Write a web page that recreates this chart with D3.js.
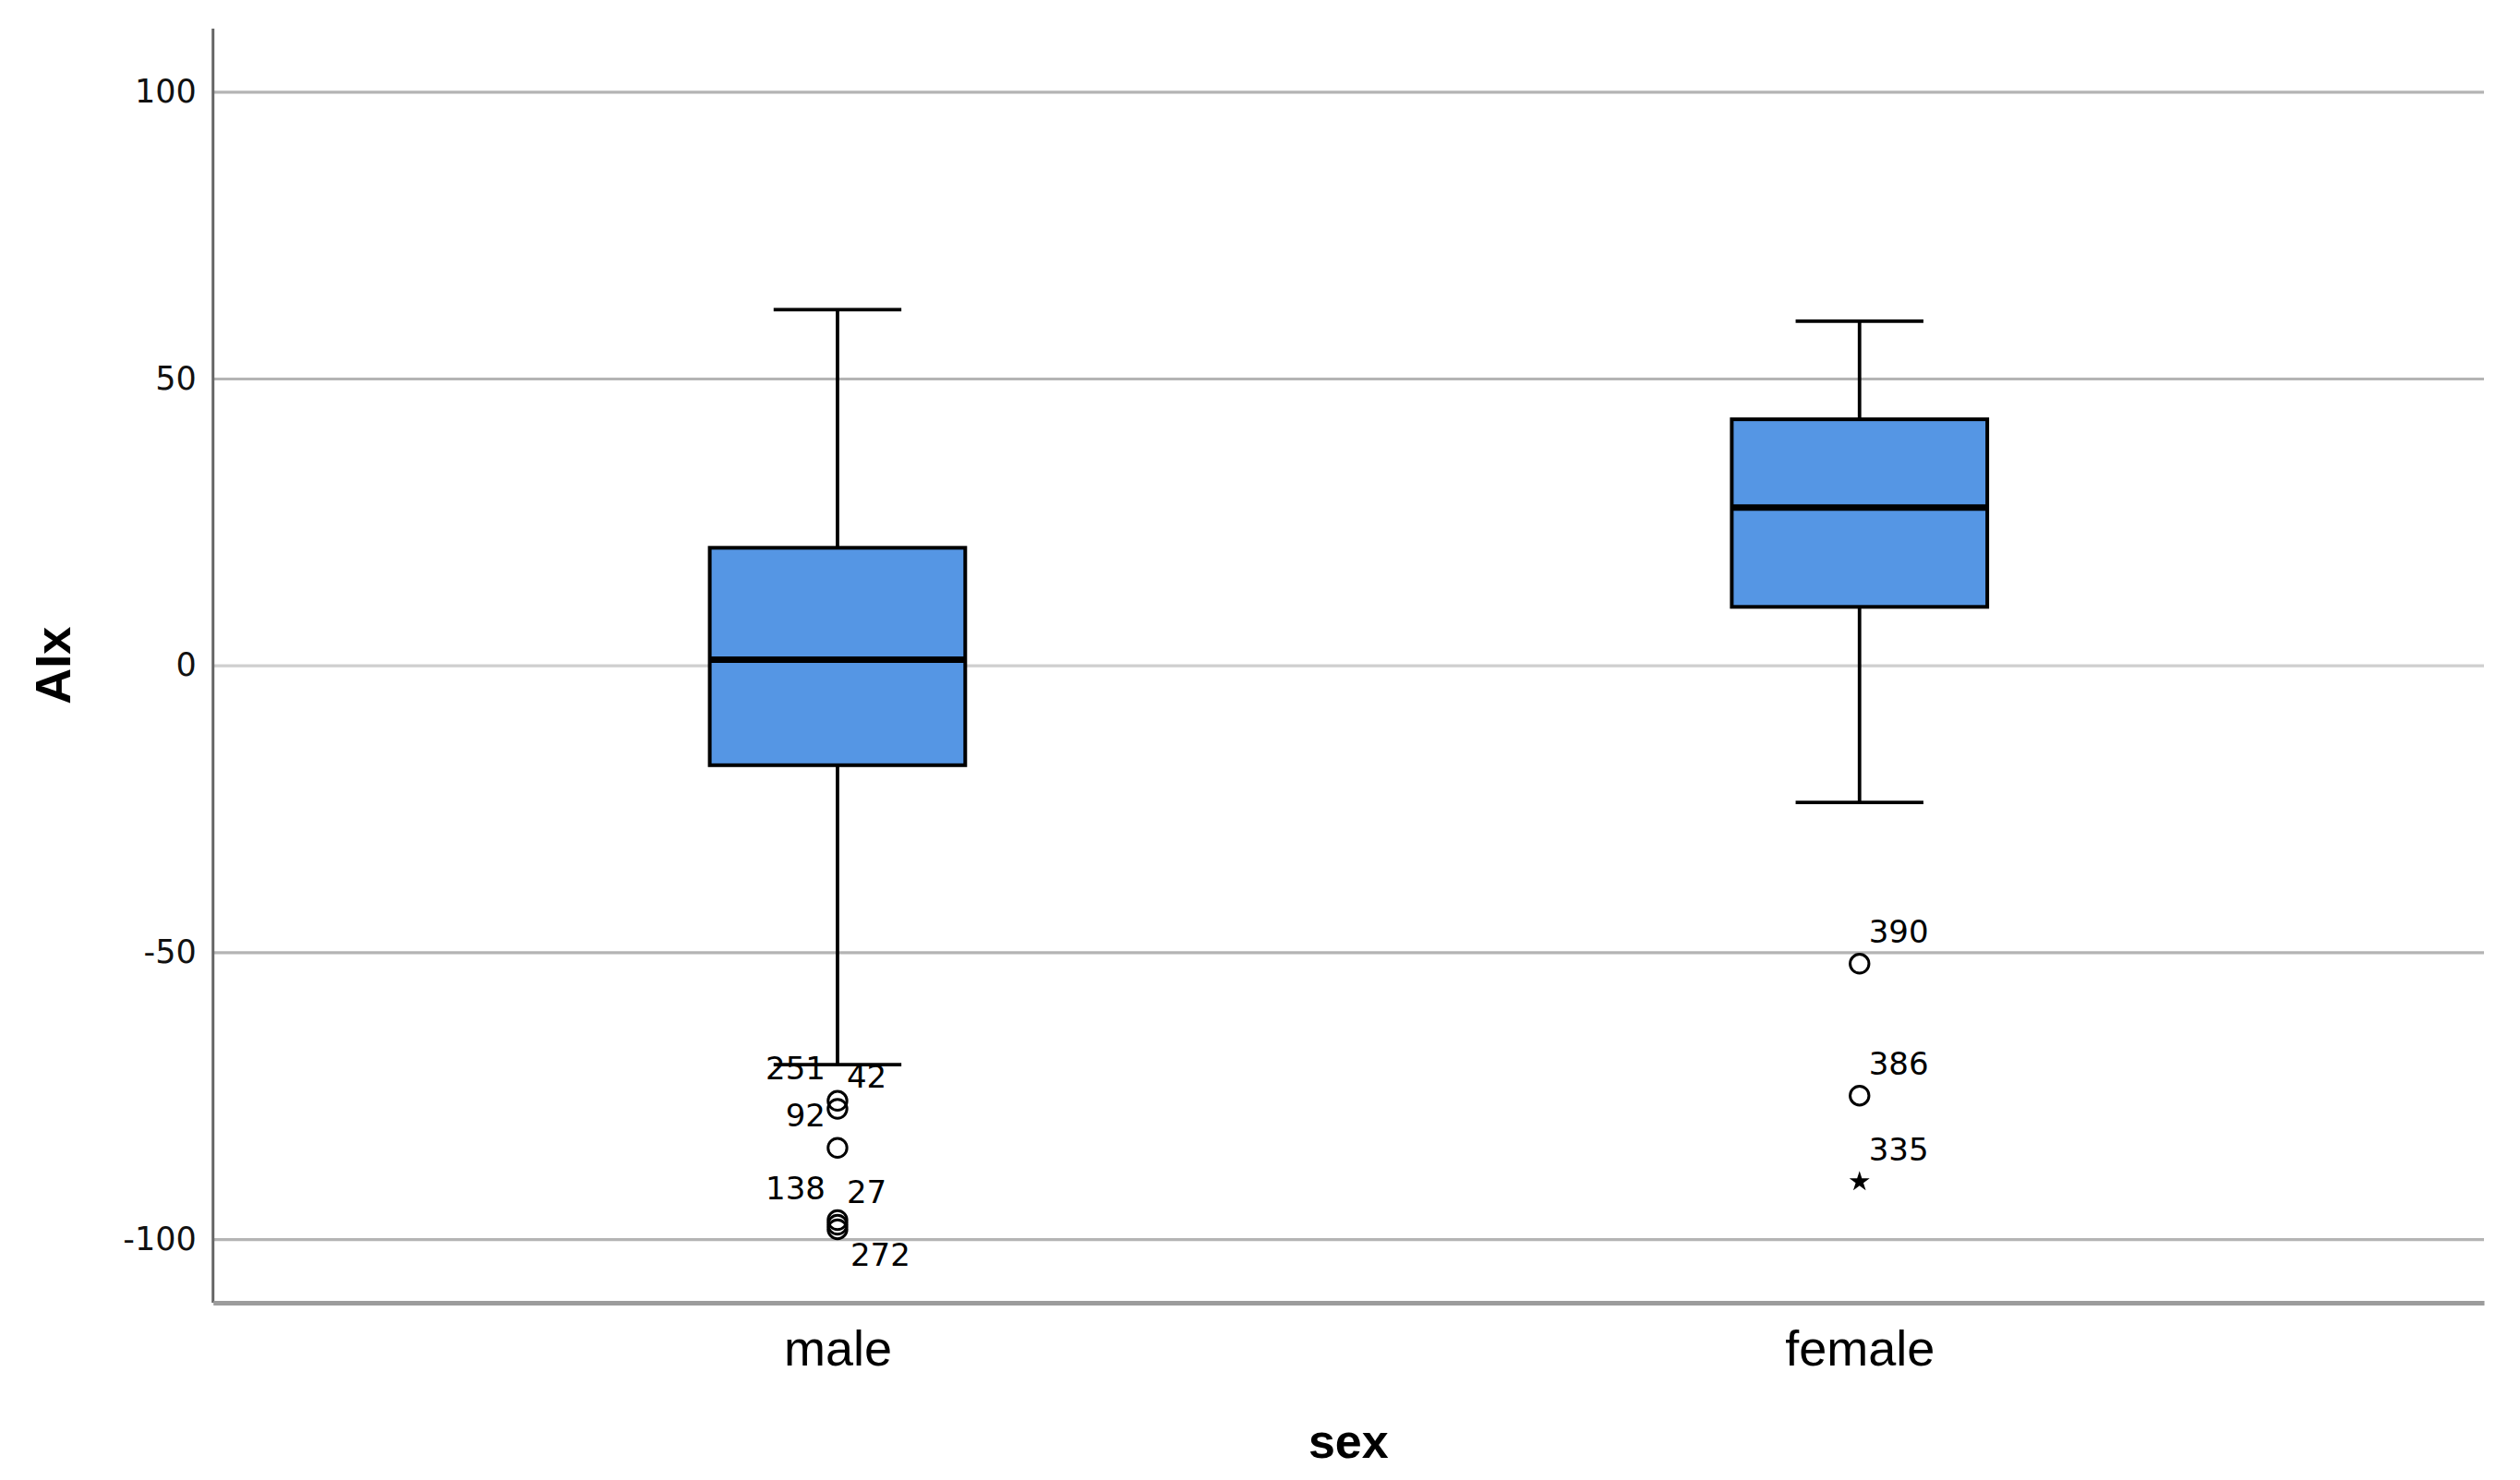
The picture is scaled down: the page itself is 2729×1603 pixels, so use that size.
<!DOCTYPE html>
<html>
<head>
<meta charset="utf-8">
<script src="https://cdn.jsdelivr.net/npm/d3@7/dist/d3.min.js"></script>
<style>
  html, body { margin: 0; padding: 0; background: #ffffff; }
  svg { display: block; }
</style>
</head>
<body>
<svg id="chart" width="2729" height="1603"></svg>
<script>
// ---- data ----
const categories = ["male", "female"];
const whiskerLow = [-69.6, -23.9];
const q1 = [-17.4, 10.2];
const medians = [1.0, 27.5];
const q3 = [20.5, 42.9];
const whiskerHigh = [62.0, 60.0];
const outlierIds = [[251, 42, 92, 138, 27, 272], [390, 386]];
const outlierValues = [[-75.9, -77.3, -84.1, -96.7, -97.5, -98.3], [-52.0, -75.0]];
const extremeIds = [[], [335]];
const extremeValues = [[], [-90.0]];
const yTicks = [-100, -50, 0, 50, 100];
const yTitle = "AIx";
const xTitle = "sex";

// ---- layout (label placement relative to point) ----
const labelPlacement = { 42: "ur", 251: "ul", 92: "ul", 138: "ul", 27: "ur", 272: "lr", 390: "ur", 386: "ur", 335: "ur" };

const W = 2729, H = 1603;
const plotLeft = 230.7, plotRight = 2690, plotTop = 31, plotBottom = 1411;

const svg = d3.select("#chart");

const y = d3.scaleLinear().domain([-111.1, 111]).range([plotBottom, plotTop]);
const x = d3.scalePoint().domain(categories).range([plotLeft, plotRight]).padding(0.611);
const boxW = x.step() * 0.25;
const capW = boxW * 0.5;

// gridlines + y tick labels
const yAxis = svg.append("g")
  .attr("transform", `translate(${plotLeft},0)`)
  .call(d3.axisLeft(y).tickValues(yTicks).tickFormat(d => String(d))
    .tickSizeInner(-(plotRight - plotLeft)).tickSizeOuter(0).tickPadding(18));
yAxis.selectAll(".tick line")
  .attr("stroke", d => d === 0 ? "#cfcfcf" : "#b4b4b4")
  .attr("stroke-width", 3.2);
yAxis.selectAll(".tick text")
  .attr("font-family", "DejaVu Sans")
  .attr("font-size", 35)
  .attr("fill", "#111");
yAxis.select(".domain").remove();

// boxes
const data = categories.map((c, i) => ({
  cat: c, lo: whiskerLow[i], q1: q1[i], med: medians[i], q3: q3[i], hi: whiskerHigh[i],
  out: outlierIds[i].map((id, j) => ({ id, v: outlierValues[i][j] })),
  ext: extremeIds[i].map((id, j) => ({ id, v: extremeValues[i][j] }))
}));

const g = svg.append("g");
const grp = g.selectAll("g.box").data(data).join("g").attr("class", "box");
const lw = 3.8;

// whisker stems
grp.append("line")
  .attr("x1", d => x(d.cat)).attr("x2", d => x(d.cat))
  .attr("y1", d => y(d.hi)).attr("y2", d => y(d.q3))
  .attr("stroke", "#000").attr("stroke-width", lw);
grp.append("line")
  .attr("x1", d => x(d.cat)).attr("x2", d => x(d.cat))
  .attr("y1", d => y(d.q1)).attr("y2", d => y(d.lo))
  .attr("stroke", "#000").attr("stroke-width", lw);
// caps
grp.append("line")
  .attr("x1", d => x(d.cat) - capW / 2).attr("x2", d => x(d.cat) + capW / 2)
  .attr("y1", d => y(d.hi)).attr("y2", d => y(d.hi))
  .attr("stroke", "#000").attr("stroke-width", lw);
grp.append("line")
  .attr("x1", d => x(d.cat) - capW / 2).attr("x2", d => x(d.cat) + capW / 2)
  .attr("y1", d => y(d.lo)).attr("y2", d => y(d.lo))
  .attr("stroke", "#000").attr("stroke-width", lw);
// box
grp.append("rect")
  .attr("x", d => x(d.cat) - boxW / 2).attr("width", boxW)
  .attr("y", d => y(d.q3)).attr("height", d => y(d.q1) - y(d.q3))
  .attr("fill", "#5596e4").attr("stroke", "#000").attr("stroke-width", 4);
// median
grp.append("line")
  .attr("x1", d => x(d.cat) - boxW / 2).attr("x2", d => x(d.cat) + boxW / 2)
  .attr("y1", d => y(d.med)).attr("y2", d => y(d.med))
  .attr("stroke", "#000").attr("stroke-width", 7);

// outliers
function labelPos(px, py, id) {
  const p = labelPlacement[id] || "ur";
  if (p === "ur") return { x: px + 10, y: py - 23, anchor: "start" };
  if (p === "ul") return { x: px - 13, y: py - 23, anchor: "end" };
  if (p === "lr") return { x: px + 14, y: py + 40, anchor: "start" };
  return { x: px - 13, y: py + 40, anchor: "end" };
}

data.forEach(d => {
  const cx = x(d.cat);
  g.selectAll(null).data(d.out).join("circle")
    .attr("cx", cx).attr("cy", o => y(o.v)).attr("r", 10.2)
    .attr("fill", "none").attr("stroke", "#000").attr("stroke-width", 3);
  g.selectAll(null).data(d.ext).join("path")
    .attr("transform", o => `translate(${cx},${y(o.v)})`)
    .attr("d", d3.symbol().type(d3.symbolStar).size(150))
    .attr("fill", "#000");
  const all = d.out.concat(d.ext);
  g.selectAll(null).data(all).join("text")
    .each(function (o) {
      const lp = labelPos(cx, y(o.v), o.id);
      d3.select(this).attr("x", lp.x).attr("y", lp.y).attr("text-anchor", lp.anchor);
    })
    .attr("font-family", "DejaVu Sans").attr("font-size", 34).attr("fill", "#000")
    .text(o => o.id);
});

// y axis line
svg.append("line")
  .attr("x1", plotLeft).attr("x2", plotLeft)
  .attr("y1", plotTop).attr("y2", plotBottom)
  .attr("stroke", "#666").attr("stroke-width", 3);

// x axis
const xAxis = svg.append("g")
  .attr("transform", `translate(0,${plotBottom})`)
  .call(d3.axisBottom(x).tickSize(0).tickPadding(30));
xAxis.select(".domain").attr("stroke", "#9c9c9c").attr("stroke-width", 5);
xAxis.selectAll(".tick text")
  .attr("font-family", "Liberation Sans").attr("font-size", 54).attr("fill", "#000");

// titles
svg.append("text")
  .attr("x", (plotLeft + plotRight) / 2).attr("y", 1579)
  .attr("text-anchor", "middle")
  .attr("font-family", "Liberation Sans").attr("font-weight", "bold").attr("font-size", 52)
  .attr("fill", "#000").text(xTitle);
svg.append("text")
  .attr("transform", `translate(76,${y(0)}) rotate(-90)`)
  .attr("text-anchor", "middle")
  .attr("font-family", "Liberation Sans").attr("font-weight", "bold").attr("font-size", 54)
  .attr("fill", "#000").text(yTitle);
</script>
</body>
</html>
